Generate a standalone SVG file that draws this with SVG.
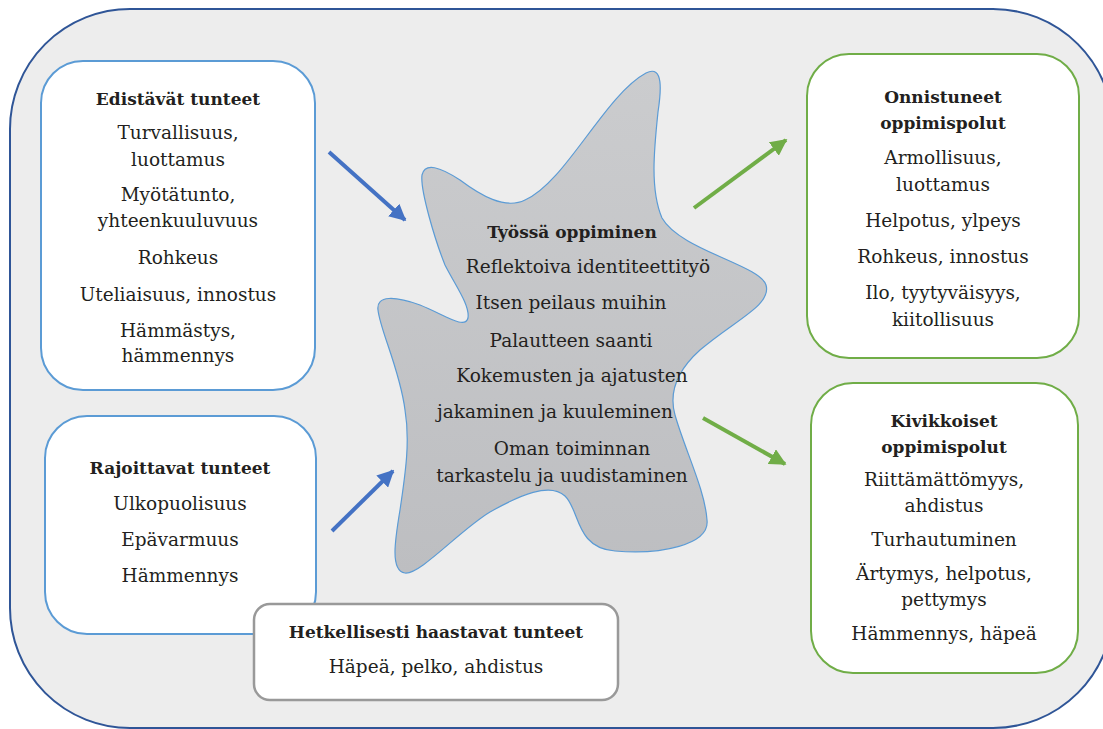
<svg xmlns="http://www.w3.org/2000/svg" width="1103" height="729" viewBox="0 0 1103 729">
<style>
.t{font-family:"DejaVu Serif","Liberation Serif",serif;font-size:18.5px;fill:#231F20;text-anchor:middle}
.b{font-weight:bold;font-size:17px}
.bluebox{fill:#FFFFFF;stroke:#5B9BD5;stroke-width:2}
.greenbox{fill:#FFFFFF;stroke:#70AD47;stroke-width:2}
.graybox{fill:#FFFFFF;stroke:#999999;stroke-width:2.5}
.ab{stroke:#4472C4;stroke-width:4;fill:none}
.ag{stroke:#70AD47;stroke-width:4;fill:none}
</style>
<defs>
<linearGradient id="sg" x1="0" y1="0" x2="0" y2="1">
<stop offset="0" stop-color="#CBCCCE"/>
<stop offset="1" stop-color="#BDBEC1"/>
</linearGradient>
<marker id="mb" viewBox="0 0 10 10" refX="9" refY="5" markerWidth="4.2" markerHeight="4.2" orient="auto" markerUnits="strokeWidth">
<path d="M0,0 L10,5 L0,10 Z" fill="#4472C4"/>
</marker>
<marker id="mg" viewBox="0 0 10 10" refX="9" refY="5" markerWidth="4.2" markerHeight="4.2" orient="auto" markerUnits="strokeWidth">
<path d="M0,0 L10,5 L0,10 Z" fill="#70AD47"/>
</marker>
</defs>
<rect x="0" y="0" width="1103" height="729" fill="#FFFFFF"/>
<rect id="container" x="10" y="9" width="1103" height="719" rx="120" ry="120" fill="#EDEDED" stroke="#2F5597" stroke-width="2"/>

<g id="center">
<path d="M646,73 C664,64 661,92 658,112 C654,150 650,190 662,218 C680,250 760,265 766,285 C772,305 735,320 700,350 C680,368 668,390 675,415 C685,450 705,490 707,520 C710,545 660,555 615,551 C575,548 580,510 565,496 C550,482 520,495 490,512 C460,530 420,575 405,573 C390,571 395,540 400,510 C406,470 410,440 405,410 C400,370 380,330 378,310 C376,295 395,296 420,305 C445,315 465,330 468,318 C470,305 455,285 445,265 C435,240 420,190 422,175 C425,162 440,167 460,180 C480,195 505,210 525,200 C565,183 605,95 646,73 Z" fill="url(#sg)" stroke="#5B9BD5" stroke-width="1.2"/>
<text class="t b" x="572" y="238">Työssä oppiminen</text>
<text class="t" x="588" y="273">Reflektoiva identiteettityö</text>
<text class="t" x="571" y="309">Itsen peilaus muihin</text>
<text class="t" x="571" y="347">Palautteen saanti</text>
<text class="t" x="572" y="382">Kokemusten ja ajatusten</text>
<text class="t" x="555" y="418">jakaminen ja kuuleminen</text>
<text class="t" x="572" y="455">Oman toiminnan</text>
<text class="t" x="562" y="482">tarkastelu ja uudistaminen</text>
</g>

<g id="edistavat">
<rect class="bluebox" x="41" y="61" width="274" height="329" rx="42" ry="42"/>
<text class="t b" x="178" y="105">Edistävät tunteet</text>
<text class="t" x="178" y="139">Turvallisuus,</text>
<text class="t" x="178" y="166">luottamus</text>
<text class="t" x="178" y="201">Myötätunto,</text>
<text class="t" x="178" y="227">yhteenkuuluvuus</text>
<text class="t" x="178" y="264">Rohkeus</text>
<text class="t" x="178" y="301">Uteliaisuus, innostus</text>
<text class="t" x="178" y="337">Hämmästys,</text>
<text class="t" x="178" y="362">hämmennys</text>
</g>

<g id="rajoittavat">
<rect class="bluebox" x="45" y="416" width="271" height="218" rx="42" ry="42"/>
<text class="t b" x="180" y="474">Rajoittavat tunteet</text>
<text class="t" x="180" y="510">Ulkopuolisuus</text>
<text class="t" x="180" y="546">Epävarmuus</text>
<text class="t" x="180" y="582">Hämmennys</text>
</g>

<g id="hetkellisesti">
<rect class="graybox" x="254" y="604" width="364" height="96" rx="16" ry="16"/>
<text class="t b" x="436" y="638">Hetkellisesti haastavat tunteet</text>
<text class="t" x="436" y="673">Häpeä, pelko, ahdistus</text>
</g>

<g id="onnistuneet">
<rect class="greenbox" x="807" y="54" width="272" height="304" rx="42" ry="42"/>
<text class="t b" x="943" y="103">Onnistuneet</text>
<text class="t b" x="943" y="129">oppimispolut</text>
<text class="t" x="943" y="164">Armollisuus,</text>
<text class="t" x="943" y="191">luottamus</text>
<text class="t" x="943" y="227">Helpotus, ylpeys</text>
<text class="t" x="943" y="263">Rohkeus, innostus</text>
<text class="t" x="943" y="299">Ilo, tyytyväisyys,</text>
<text class="t" x="943" y="326">kiitollisuus</text>
</g>

<g id="kivikkoiset">
<rect class="greenbox" x="811" y="383" width="267" height="290" rx="42" ry="42"/>
<text class="t b" x="944" y="427">Kivikkoiset</text>
<text class="t b" x="944" y="453">oppimispolut</text>
<text class="t" x="944" y="486">Riittämättömyys,</text>
<text class="t" x="944" y="512">ahdistus</text>
<text class="t" x="944" y="546">Turhautuminen</text>
<text class="t" x="944" y="580">Ärtymys, helpotus,</text>
<text class="t" x="944" y="606">pettymys</text>
<text class="t" x="944" y="640">Hämmennys, häpeä</text>
</g>

<g id="connectors">
<line class="ab" x1="329" y1="152" x2="405" y2="220" marker-end="url(#mb)"/>
<line class="ab" x1="332" y1="531" x2="393" y2="471" marker-end="url(#mb)"/>
<line class="ag" x1="694" y1="208" x2="786" y2="140" marker-end="url(#mg)"/>
<line class="ag" x1="703" y1="418" x2="785" y2="464" marker-end="url(#mg)"/>
</g>
</svg>
